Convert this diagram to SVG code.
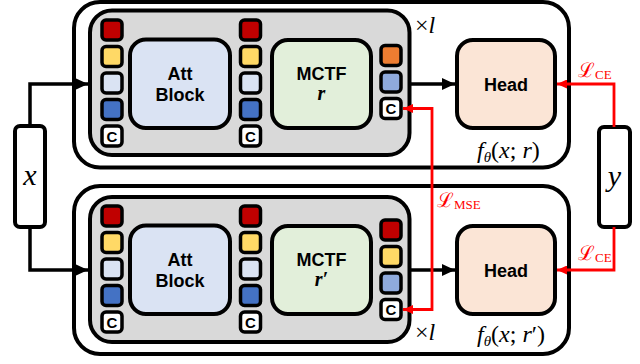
<svg xmlns="http://www.w3.org/2000/svg" width="640" height="364" viewBox="0 0 640 364">
<defs>
<marker id="ab" markerUnits="userSpaceOnUse" markerWidth="13" markerHeight="12" refX="13" refY="6" orient="auto"><path d="M0,0 L13,6 L0,12 z" fill="#000"/></marker>
<marker id="ar" markerUnits="userSpaceOnUse" markerWidth="10" markerHeight="9" refX="10" refY="4.5" orient="auto-start-reverse"><path d="M0,0 L10,4.5 L0,9 z" fill="#FF0000"/></marker>
</defs>
<style>
.outer{fill:#fff;stroke:#000;stroke-width:4}
.gray{fill:#D9D9D9;stroke:#000;stroke-width:4}
.blk{stroke:#000;stroke-width:4}
.sq{stroke:#000;stroke-width:3.5}
.r{fill:#C00000}.yl{fill:#FFD966}.lb{fill:#DAE3F3}.bl{fill:#4472C4}.or{fill:#ED7D31}.mb{fill:#8FAADC}.wc{fill:#fff}
.lbl{font-family:"Liberation Sans",Arial,sans-serif;font-weight:700;font-size:18px;text-anchor:middle;fill:#000}
.c{font-family:"Liberation Sans",Arial,sans-serif;font-weight:700;font-size:15px;text-anchor:middle;fill:#000}
.m{font-family:"Liberation Serif","DejaVu Serif",serif;fill:#000}
.mr{font-family:"Liberation Serif","DejaVu Serif",serif;fill:#FF0000}
.cb{fill:none;stroke:#000;stroke-width:3.5}
.cr{fill:none;stroke:#FF0000;stroke-width:2.8}
</style>

<g id="panel-top">
<rect class="outer" x="74" y="2" width="495" height="165.5" rx="26"/>
<rect class="gray" x="90" y="10.5" width="319.5" height="144.5" rx="22"/>
<text class="m" x="415" y="33" font-size="24">×<tspan font-style="italic">l</tspan></text>
<text class="m" x="477" y="158" font-size="24"><tspan font-style="italic">f</tspan><tspan font-style="italic" font-size="15" dy="4">θ</tspan><tspan dy="-4">(</tspan><tspan font-style="italic">x</tspan>; <tspan font-style="italic">r</tspan>)</text>
</g>

<g id="panel-bottom">
<rect class="outer" x="74" y="186" width="495" height="168" rx="26"/>
<rect class="gray" x="90" y="197" width="319.5" height="145" rx="22"/>
<text class="m" x="415" y="340" font-size="24">×<tspan font-style="italic">l</tspan></text>
<text class="m" x="477" y="342" font-size="24"><tspan font-style="italic">f</tspan><tspan font-style="italic" font-size="15" dy="4">θ</tspan><tspan dy="-4">(</tspan><tspan font-style="italic">x</tspan>; <tspan font-style="italic">r</tspan>′)</text>
</g>

<g id="tokens-top-in">
<rect class="sq r" x="102" y="20" width="20" height="20" rx="4"/>
<rect class="sq yl" x="102" y="46.5" width="20" height="20" rx="4"/>
<rect class="sq lb" x="102" y="73" width="20" height="20" rx="4"/>
<rect class="sq bl" x="102" y="99.5" width="20" height="20" rx="4"/>
<rect class="sq wc" x="102" y="126" width="20" height="20" rx="4"/>
<text class="c" x="112" y="141.5">C</text>
</g>
<g id="att-top">
<rect class="blk" fill="#DAE3F3" x="130" y="39.5" width="100" height="88.5" rx="16"/>
<text class="lbl" x="180" y="80">Att</text>
<text class="lbl" x="180" y="101">Block</text>
</g>
<g id="tokens-top-mid">
<rect class="sq r" x="240.5" y="20" width="20" height="20" rx="4"/>
<rect class="sq yl" x="240.5" y="46.5" width="20" height="20" rx="4"/>
<rect class="sq lb" x="240.5" y="73" width="20" height="20" rx="4"/>
<rect class="sq bl" x="240.5" y="99.5" width="20" height="20" rx="4"/>
<rect class="sq wc" x="240.5" y="126" width="20" height="20" rx="4"/>
<text class="c" x="250.5" y="141.5">C</text>
</g>
<g id="mctf-top">
<rect class="blk" fill="#E2EFDA" x="272" y="40" width="99" height="88" rx="16"/>
<text class="lbl" x="321.5" y="80">MCTF</text>
<text class="m" x="321.5" y="100" font-size="20" font-style="italic" font-weight="700" text-anchor="middle">r</text>
</g>
<g id="tokens-top-out">
<rect class="sq or" x="381" y="45.5" width="20" height="20" rx="4"/>
<rect class="sq mb" x="381" y="72" width="20" height="20" rx="4"/>
<rect class="sq wc" x="381" y="98.5" width="20" height="20" rx="4"/>
<text class="c" x="391" y="114">C</text>
</g>
<g id="head-top">
<rect class="blk" fill="#FBE5D6" x="457" y="40" width="98" height="88" rx="16"/>
<text class="lbl" x="506" y="91">Head</text>
</g>

<g id="tokens-bot-in">
<rect class="sq r" x="102" y="206" width="20" height="20" rx="4"/>
<rect class="sq yl" x="102" y="232.5" width="20" height="20" rx="4"/>
<rect class="sq lb" x="102" y="259" width="20" height="20" rx="4"/>
<rect class="sq bl" x="102" y="285.5" width="20" height="20" rx="4"/>
<rect class="sq wc" x="102" y="312" width="20" height="20" rx="4"/>
<text class="c" x="112" y="327.5">C</text>
</g>
<g id="att-bot">
<rect class="blk" fill="#DAE3F3" x="130" y="225.5" width="100" height="88.5" rx="16"/>
<text class="lbl" x="180" y="266">Att</text>
<text class="lbl" x="180" y="287">Block</text>
</g>
<g id="tokens-bot-mid">
<rect class="sq r" x="240.5" y="206" width="20" height="20" rx="4"/>
<rect class="sq yl" x="240.5" y="232.5" width="20" height="20" rx="4"/>
<rect class="sq lb" x="240.5" y="259" width="20" height="20" rx="4"/>
<rect class="sq bl" x="240.5" y="285.5" width="20" height="20" rx="4"/>
<rect class="sq wc" x="240.5" y="312" width="20" height="20" rx="4"/>
<text class="c" x="250.5" y="327.5">C</text>
</g>
<g id="mctf-bot">
<rect class="blk" fill="#E2EFDA" x="272" y="226" width="99" height="88" rx="16"/>
<text class="lbl" x="321.5" y="266">MCTF</text>
<text class="m" x="321.5" y="286" font-size="20" font-style="italic" font-weight="700" text-anchor="middle">r′</text>
</g>
<g id="tokens-bot-out">
<rect class="sq r" x="381" y="220" width="20" height="20" rx="4"/>
<rect class="sq yl" x="381" y="246.5" width="20" height="20" rx="4"/>
<rect class="sq mb" x="381" y="273" width="20" height="20" rx="4"/>
<rect class="sq wc" x="381" y="299.5" width="20" height="20" rx="4"/>
<text class="c" x="391" y="315">C</text>
</g>
<g id="head-bot">
<rect class="blk" fill="#FBE5D6" x="457" y="226" width="98" height="88" rx="16"/>
<text class="lbl" x="506" y="277">Head</text>
</g>

<g id="x-input">
<rect class="blk" fill="#fff" x="15" y="126" width="30" height="101" rx="5"/>
<text class="m" x="30" y="185" font-size="30" font-style="italic" text-anchor="middle">x</text>
</g>
<g id="y-label">
<rect class="blk" fill="#fff" x="599" y="127" width="31" height="100" rx="5"/>
<text class="m" x="614.5" y="186" font-size="30" font-style="italic" text-anchor="middle">y</text>
</g>

<g id="connectors">
<path class="cb" d="M30 126 V84 H88" marker-end="url(#ab)"/>
<path class="cb" d="M30 227 V270 H88" marker-end="url(#ab)"/>
<path class="cb" d="M411 84 H455" marker-end="url(#ab)"/>
<path class="cb" d="M411 270 H455" marker-end="url(#ab)"/>
<path class="cr" d="M614 127 V84 H557" marker-end="url(#ar)"/>
<path class="cr" d="M614 227 V270 H557" marker-end="url(#ar)"/>
<path class="cr" d="M403 108.5 H432 V309.5 H403" marker-start="url(#ar)" marker-end="url(#ar)"/>
<text class="mr" x="578" y="77" font-size="20">ℒ<tspan font-size="13" dy="2">CE</tspan></text>
<text class="mr" x="578" y="260" font-size="20">ℒ<tspan font-size="13" dy="2">CE</tspan></text>
<text class="mr" x="437" y="207" font-size="20">ℒ<tspan font-size="13" dy="2">MSE</tspan></text>
</g>
</svg>
